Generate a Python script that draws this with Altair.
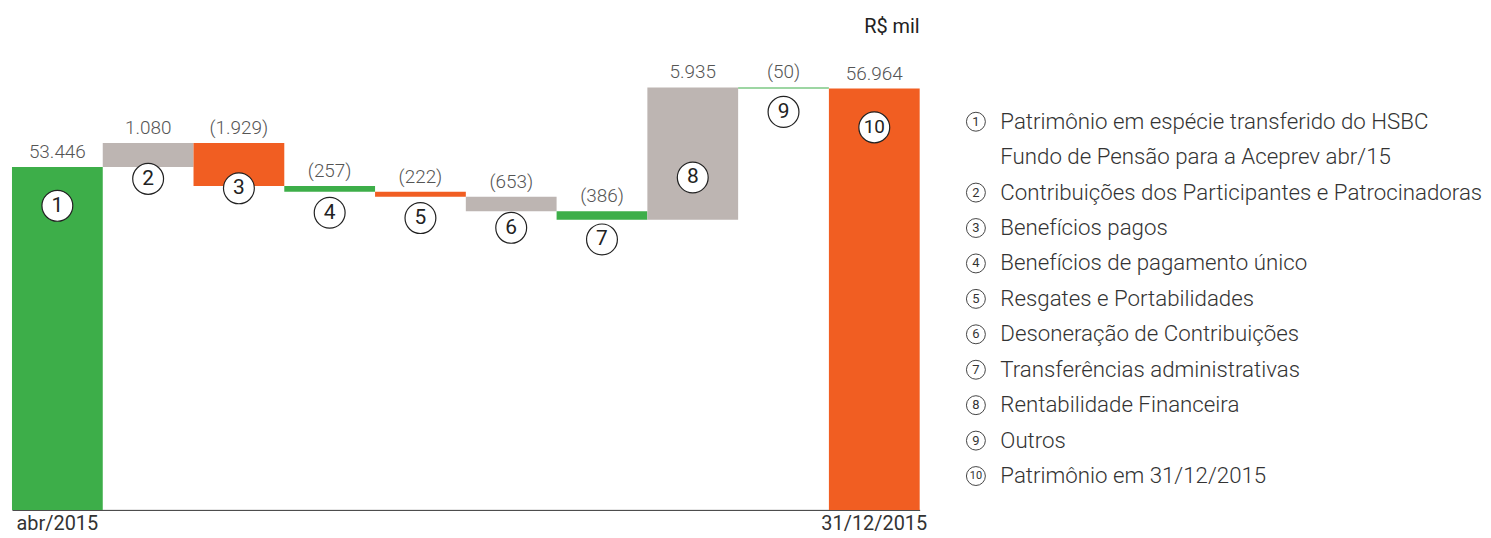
import altair as alt
import pandas as pd

# ---------------- data ----------------
steps = ["1", "2", "3", "4", "5", "6", "7", "8", "9", "10"]
values = [53446, 1080, -1929, -257, -222, -653, -386, 5935, -50, 56964]
is_total = [True, False, False, False, False, False, False, False, False, True]
bar_colors = ["#3dae49", "#bdb5b2", "#f15e22", "#3dae49", "#f15e22",
              "#bdb5b2", "#3dae49", "#bdb5b2", "#3dae49", "#f15e22"]
axis_labels = ["abr/2015", "", "", "", "", "", "", "", "", "31/12/2015"]
legend_labels = [
    "Patrimônio em espécie transferido do HSBC\nFundo de Pensão para a Aceprev abr/15",
    "Contribuições dos Participantes e Patrocinadoras",
    "Benefícios pagos",
    "Benefícios de pagamento único",
    "Resgates e Portabilidades",
    "Desoneração de Contribuições",
    "Transferências administrativas",
    "Rentabilidade Financeira",
    "Outros",
    "Patrimônio em 31/12/2015",
]
unit_title = "R$ mil"

Y_MIN, Y_MAX = 38074, 58824
FONT = "Roboto"


def fmt(v):
    s = f"{abs(v):,}".replace(",", ".")
    return f"({s})" if v < 0 else s


rows = []
level = 0
for s, v, tot, c in zip(steps, values, is_total, bar_colors):
    if tot:
        start, end = Y_MIN, v
        level = v
    else:
        start, end = level, level + v
        level = end
    rows.append(dict(step=s, start=start, end=end, top=max(start, end),
                     mid=(start + end) / 2, label=fmt(v), color=c, total=tot))
df = pd.DataFrame(rows)

label_expr = " : ".join(
    f"datum.value == '{s}' ? '{lab}'" for s, lab in zip(steps, axis_labels) if lab
) + " : ''"

yscale = alt.Scale(domain=[Y_MIN, Y_MAX], zero=False, nice=False)
x_enc = alt.X("step:N", sort=steps,
              scale=alt.Scale(paddingInner=0, paddingOuter=0, round=False),
              axis=alt.Axis(title=None, labelExpr=label_expr, ticks=False,
                            labelAngle=0, labelFontSize=20, labelColor="#333",
                            labelFontWeight="normal",
                            labelPadding=4, domainColor="#333", domainWidth=1,
                            labelFont=FONT))

base = alt.Chart(df).encode(x=x_enc)

bars = base.mark_bar().encode(
    y=alt.Y("start:Q", scale=yscale, axis=None),
    y2="end:Q",
    color=alt.Color("color:N", scale=None),
)

value_labels = base.mark_text(dy=-9, baseline="alphabetic", fontSize=19,
                              fontWeight=300, color="#555", font=FONT).encode(
    y=alt.Y("top:Q", scale=yscale), text="label:N")

num_size = alt.condition("length(datum.step) > 1", alt.value(19), alt.value(21))

delta_c = base.transform_filter("!datum.total").mark_point(
    shape="circle", size=961, filled=True, fill="white", stroke="#222",
    strokeWidth=1.2, opacity=1, yOffset=24).encode(y=alt.Y("mid:Q", scale=yscale))
delta_t = base.transform_filter("!datum.total").mark_text(
    yOffset=24, baseline="middle", color="#222", font=FONT).encode(
    y=alt.Y("mid:Q", scale=yscale), text="step:N", size=num_size)

tot_c = base.transform_filter("datum.total").mark_point(
    shape="circle", size=961, filled=True, fill="white", stroke="#222",
    strokeWidth=1.2, opacity=1, yOffset=39).encode(y=alt.Y("end:Q", scale=yscale))
tot_t = base.transform_filter("datum.total").mark_text(
    yOffset=39, baseline="middle", color="#222", font=FONT).encode(
    y=alt.Y("end:Q", scale=yscale), text="step:N", size=num_size)

waterfall = alt.layer(bars, value_labels, delta_c, delta_t, tot_c, tot_t).properties(
    width=912, height=465,
    title=alt.Title(unit_title, anchor="end", frame="group", fontSize=20,
                    fontWeight="normal", color="#222", offset=10, font=FONT),
)

# ---------------- legend ----------------
lrows = []
r = 0
for i, lab in enumerate(legend_labels):
    for j, line in enumerate(lab.split("\n")):
        lrows.append(dict(row=r, text=line, num=steps[i] if j == 0 else ""))
        r += 1
ldf = pd.DataFrame(lrows)

LEG_TOP = 75
y_leg = alt.Y("row:Q", scale=alt.Scale(domain=[0, 10], range=[LEG_TOP, LEG_TOP + 356]),
              axis=None)
lbase = alt.Chart(ldf).encode(y=y_leg)
l_circ = lbase.transform_filter("datum.num != ''").mark_point(
    shape="circle", size=361, filled=False, stroke="#444", strokeWidth=1,
    opacity=1).encode(x=alt.value(34.5))
l_num = lbase.transform_filter("datum.num != ''").mark_text(
    baseline="middle", color="#333", font=FONT).encode(
    x=alt.value(34.5), text="num:N",
    size=alt.condition("length(datum.num) > 1", alt.value(11), alt.value(13)))
l_txt = lbase.mark_text(align="left", baseline="middle", fontSize=22.4,
                        fontWeight=300, color="#333", font=FONT).encode(
    x=alt.value(59), text="text:N")
legend = alt.layer(l_circ, l_num, l_txt).properties(width=510, height=480)

chart = alt.hconcat(waterfall, legend, spacing=14).properties(
    padding={"left": 4, "top": 8, "right": 0, "bottom": 5}
).configure(font=FONT).configure_view(stroke=None)

chart.save("out.html", embed_options={"renderer": "svg", "actions": False})
